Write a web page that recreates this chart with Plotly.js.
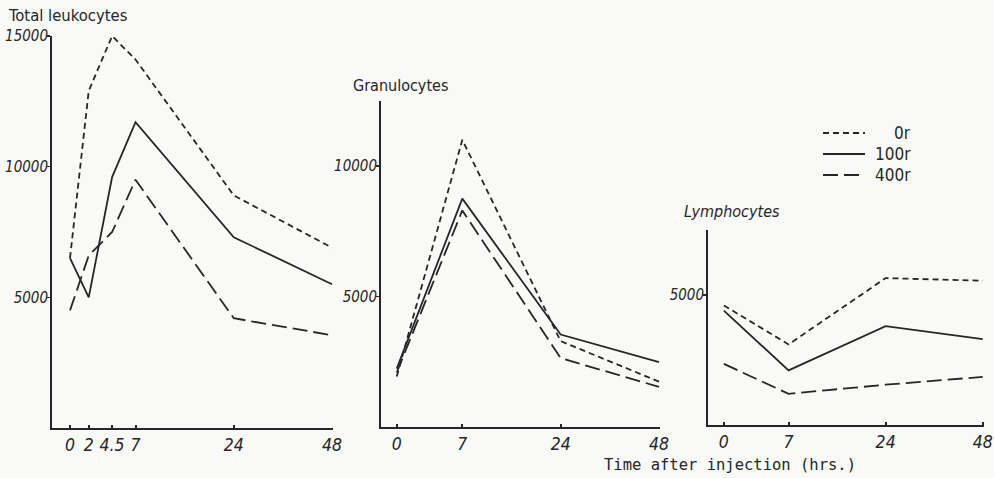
<!DOCTYPE html>
<html>
<head>
<meta charset="utf-8">
<script src="https://cdn.plot.ly/plotly-3.0.1.min.js"></script>
<style>
  html, body { margin: 0; padding: 0; background: #f9f9f7; }
  #chart { width: 994px; height: 478px; }
</style>
</head>
<body>
<div id="chart"></div>
<script>
// Sampling times (hours after injection)
const hoursTotal = [0, 2, 4.5, 7, 24, 48];
const hoursShort = [0, 7, 24, 48];
const timeTickLabelsTotal = ['0', '2', '4.5', '7', '24', '48'];
const timeTickLabelsShort = ['0', '7', '24', '48'];

// Irradiation doses
const doseLabels = ['0r', '100r', '400r'];

// Total leukocytes (cells / mm3)
const totalLeukocytes0r   = [6500, 12900, 15000, 14100, 8900, 6900];
const totalLeukocytes100r = [6500, 5000, 9600, 11700, 7300, 5500];
const totalLeukocytes400r = [4500, 6600, 7500, 9500, 4200, 3550];

// Granulocytes
const granulocytes0r   = [1950, 11000, 3300, 1750];
const granulocytes100r = [2250, 8750, 3550, 2500];
const granulocytes400r = [2100, 8300, 2650, 1550];

// Lymphocytes
const lymphocytes0r   = [4600, 3100, 5650, 5550];
const lymphocytes100r = [4400, 2100, 3800, 3300];
const lymphocytes400r = [2350, 1200, 1550, 1850];

// Count axis ticks
const totalTicks = [5000, 10000, 15000];
const granuloTicks = [5000, 10000];
const lymphoTicks = [5000];

// The time axis is drawn as a broken scale: each interval between
// the main sampling times gets its own stretch of the axis.
const SCALE_HOURS = [0, 7, 24, 48];
const SCALE_UNITS = [0, 2, 5, 8];
function timeToAxis(h) {
  for (let i = 1; i < SCALE_HOURS.length; i++) {
    if (h <= SCALE_HOURS[i]) {
      const t = (h - SCALE_HOURS[i - 1]) / (SCALE_HOURS[i] - SCALE_HOURS[i - 1]);
      return SCALE_UNITS[i - 1] + t * (SCALE_UNITS[i] - SCALE_UNITS[i - 1]);
    }
  }
  return SCALE_UNITS[SCALE_UNITS.length - 1];
}

const W = 994, H = 478;
const px = x => x / W;
const py = y => 1 - y / H;

const INK = '#262626';
const dashStyles = ['6px,4px', 'solid', '15px,6px'];

function seriesTraces(hours, seriesList, xa, ya) {
  return seriesList.map((vals, i) => ({
    type: 'scatter',
    mode: 'lines',
    x: hours.map(timeToAxis),
    y: vals,
    name: doseLabels[i],
    xaxis: xa,
    yaxis: ya,
    showlegend: false,
    hoverinfo: 'skip',
    line: { color: INK, width: 1.8, dash: dashStyles[i] }
  }));
}

const data = [
  ...seriesTraces(hoursTotal, [totalLeukocytes0r, totalLeukocytes100r, totalLeukocytes400r], 'x', 'y'),
  ...seriesTraces(hoursShort, [granulocytes0r, granulocytes100r, granulocytes400r], 'x2', 'y2'),
  ...seriesTraces(hoursShort, [lymphocytes0r, lymphocytes100r, lymphocytes400r], 'x3', 'y3')
];

const numFont = { family: 'DejaVu Sans Condensed, DejaVu Sans, sans-serif', size: 15, color: INK, style: 'italic' };
const xNumFont = { family: 'DejaVu Sans Condensed, DejaVu Sans, sans-serif', size: 17.5, color: INK, style: 'italic' };

function xAxis(left, right, range, hours, labels, anchor) {
  return {
    domain: [px(left), px(right)],
    range: range,
    anchor: anchor,
    showline: true, linecolor: INK, linewidth: 2,
    showgrid: false, zeroline: false,
    ticks: 'inside', ticklen: 3, tickwidth: 2, tickcolor: INK,
    tickmode: 'array',
    tickvals: hours.map(timeToAxis),
    ticktext: labels,
    tickfont: xNumFont,
    ticklabeloverflow: 'allow',
    fixedrange: true
  };
}
function yAxis(top, bottom, range, ticks, anchor) {
  return {
    domain: [py(bottom), py(top)],
    range: range,
    anchor: anchor,
    showline: true, linecolor: INK, linewidth: 2,
    showgrid: false, zeroline: false,
    ticks: 'outside', ticklen: 3, tickwidth: 1.5, tickcolor: INK,
    tickmode: 'array',
    tickvals: ticks,
    ticktext: ticks.map(String),
    tickfont: numFont,
    ticklabelstandoff: -4,
    ticklabeloverflow: 'allow',
    fixedrange: true
  };
}

const titleFont = { family: 'DejaVu Sans Condensed, DejaVu Sans, sans-serif', size: 16, color: INK };
function note(text, x, y, opts) {
  return Object.assign({
    text: text, xref: 'paper', yref: 'paper',
    x: px(x), y: py(y), xanchor: 'left', yanchor: 'middle',
    showarrow: false, font: titleFont
  }, opts || {});
}

// Hand-drawn style key in the upper right
const keyRows = [133, 154, 175];
const keyShapes = keyRows.map((y, i) => ({
  type: 'line', xref: 'paper', yref: 'paper',
  x0: px(823), x1: px(865), y0: py(y), y1: py(y),
  line: { color: INK, width: 1.8, dash: dashStyles[i] }
}));
const keyNotes = keyRows.map((y, i) => note(doseLabels[i], 913, y, {
  xanchor: 'right',
  font: { family: 'DejaVu Sans Condensed, DejaVu Sans, sans-serif', size: 17, color: INK }
}));

const layout = {
  width: W, height: H,
  margin: { l: 0, r: 0, t: 0, b: 0 },
  paper_bgcolor: '#f9f9f7',
  plot_bgcolor: 'rgba(0,0,0,0)',
  showlegend: false,
  xaxis:  xAxis(52, 333, [-0.55, 8.03], hoursTotal, timeTickLabelsTotal, 'y'),
  yaxis:  yAxis(36, 428, [0, 15000], totalTicks, 'x'),
  xaxis2: xAxis(381, 660, [-0.48, 8.03], hoursShort, timeTickLabelsShort, 'y2'),
  yaxis2: yAxis(100.6, 427.4, [0, 12500], granuloTicks, 'x2'),
  xaxis3: xAxis(708, 984, [-0.49, 8.04], hoursShort, timeTickLabelsShort, 'y3'),
  yaxis3: yAxis(230, 425, [0, 7500], lymphoTicks, 'x3'),
  shapes: keyShapes,
  annotations: [
    note('Total leukocytes', 6, 15, { font: Object.assign({}, titleFont, { size: 16.5 }) }),
    note('Granulocytes', 351, 85),
    note('Lymphocytes', 682, 212, { font: Object.assign({}, titleFont, { style: 'italic' }) }),
    note('Time after injection (hrs.)', 602, 465, {
      font: { family: 'DejaVu Sans Mono, monospace', size: 15.5, color: INK }
    }),
    ...keyNotes
  ]
};

Plotly.newPlot('chart', data, layout, { staticPlot: true, displayModeBar: false });
</script>
</body>
</html>
